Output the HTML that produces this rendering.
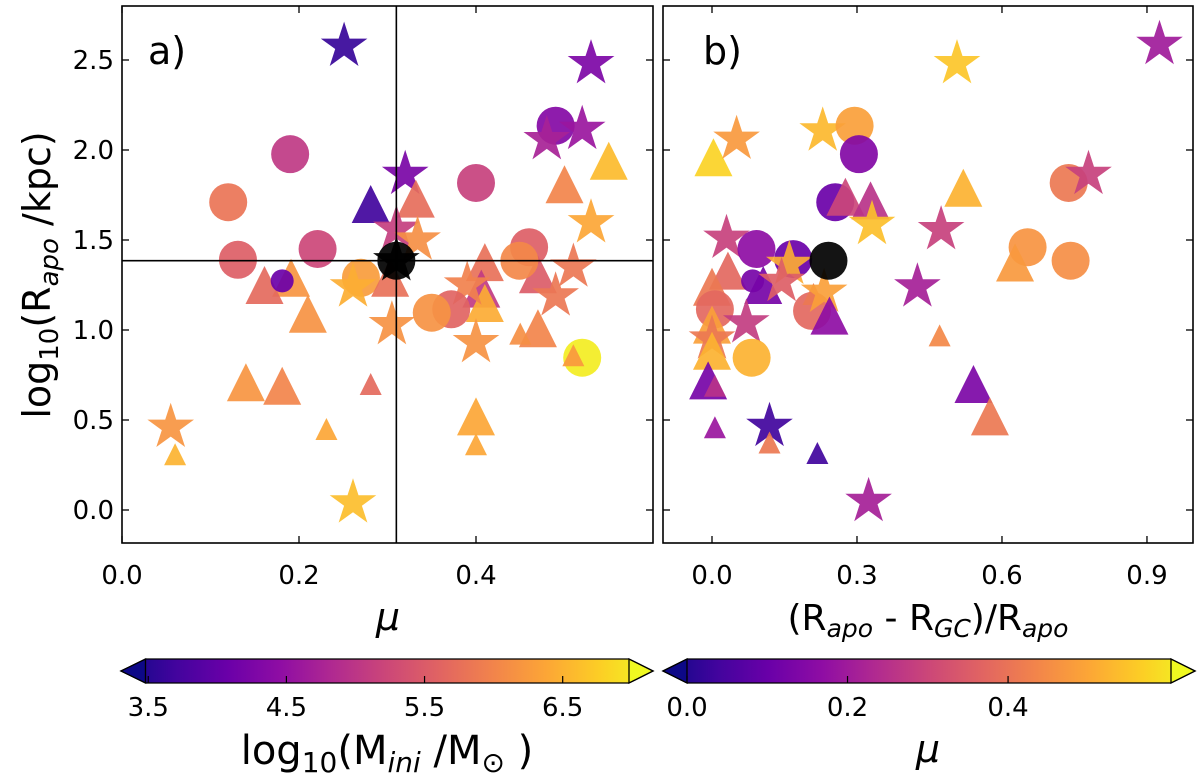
<!DOCTYPE html>
<html><head><meta charset="utf-8"><style>
html,body{margin:0;padding:0;background:#fff;}
svg{display:block;font-family:"DejaVu Sans","Liberation Sans",sans-serif;}
</style></head><body>
<svg id="chart" width="1200" height="776" viewBox="0 0 1200 776" xmlns="http://www.w3.org/2000/svg">
<defs>
<linearGradient id="plasma" x1="0" x2="1" y1="0" y2="0">
<stop offset="0" stop-color="#0d0887"/><stop offset="0.1" stop-color="#41049d"/><stop offset="0.2" stop-color="#6a00a8"/><stop offset="0.3" stop-color="#8f0da4"/><stop offset="0.4" stop-color="#b12a90"/><stop offset="0.5" stop-color="#cc4778"/><stop offset="0.6" stop-color="#e16462"/><stop offset="0.7" stop-color="#f2844b"/><stop offset="0.8" stop-color="#fca636"/><stop offset="0.9" stop-color="#fcce25"/><stop offset="1" stop-color="#f0f921"/>
</linearGradient>
<clipPath id="ca"><rect x="122" y="6" width="531" height="537"/></clipPath>
<clipPath id="cb"><rect x="663" y="6" width="530" height="537"/></clipPath>
</defs>
<g id="layer"></g>
</svg>
<script>
// Panel a data
const aMu   = [0.251,0.19,0.12,0.281,0.131,0.221,0.191,0.161,0.181,0.21,0.27,0.261,0.14,0.181,0.281,0.231,0.055,0.06,0.261,0.32,0.332,0.31,0.334,0.303,0.305,0.53,0.49,0.48,0.52,0.55,0.50,0.40,0.53,0.46,0.47,0.449,0.51,0.41,0.406,0.41,0.39,0.372,0.35,0.49,0.47,0.45,0.40,0.52,0.51,0.40,0.40];
const aLogR = [2.577,1.977,1.71,1.70,1.39,1.45,1.29,1.25,1.273,1.09,1.29,1.24,0.71,0.69,0.70,0.45,0.46,0.31,0.04,1.865,1.73,1.56,1.5,1.29,1.03,2.48,2.135,2.058,2.115,1.94,1.81,1.817,1.596,1.46,1.31,1.385,1.35,1.377,1.23,1.15,1.25,1.115,1.096,1.19,1.01,0.98,0.93,0.846,0.86,0.52,0.365];
const aMass = [3.76,5.06,5.76,3.83,5.51,5.23,6.1,5.65,4.18,6.07,6.18,6.35,6.1,5.93,5.65,6.28,6.1,6.39,6.49,4.32,5.69,5.13,6.04,5.72,6.07,4.36,4.43,4.78,4.64,6.46,5.93,5.16,6.28,5.51,5.48,5.97,5.79,5.72,5.09,6.32,5.9,5.58,6.07,5.79,5.93,6.04,6.07,6.88,6.14,6.28,6.28];
const aShape= ['*','o','o','^','o','o','^','^','o','^','o','*','^','^','^','^','*','^','*','*','^','*','*','^','*','*','o','*','*','^','^','o','*','o','^','o','*','^','^','^','*','o','o','*','^','^','*','o','^','^','^'];
const aSmall= [0,0,0,0,0,0,0,0,1,0,0,0,0,0,1,1,0,1,0,0,0,0,0,0,0,0,0,0,0,0,0,0,0,0,0,0,0,0,0,0,0,0,0,0,0,1,0,0,1,0,1];
// Panel b data
const bFrac = [0.003,0.051,0.229,0.295,0.304,0.255,0.276,0.328,0.331,0.03,0.092,0.168,0.16,0.033,0.106,0.084,0.144,0.0,0.006,0.207,0.21,0.232,0.243,0.071,0.0,0.0,0.0,0.082,-0.008,0.006,0.006,0.119,0.119,0.218,0.324,0.425,0.474,0.471,0.507,0.926,0.52,0.738,0.779,0.653,0.627,0.742,0.541,0.575];
const bLogR = [1.96,2.06,2.106,2.135,1.977,1.71,1.74,1.72,1.587,1.51,1.45,1.394,1.365,1.33,1.25,1.273,1.27,1.24,1.115,1.106,1.2,1.21,1.08,1.04,1.03,0.95,0.885,0.846,0.72,0.69,0.46,0.465,0.375,0.317,0.048,1.24,1.558,0.97,2.48,2.587,1.79,1.817,1.865,1.46,1.375,1.385,0.70,0.52];
const bMuC  = [0.55,0.46,0.51,0.47,0.16,0.12,0.3,0.26,0.52,0.29,0.18,0.12,0.49,0.37,0.14,0.14,0.35,0.4,0.37,0.37,0.4,0.47,0.18,0.28,0.47,0.4,0.5,0.5,0.14,0.26,0.2,0.06,0.4,0.06,0.22,0.22,0.29,0.43,0.53,0.21,0.5,0.4,0.29,0.45,0.46,0.44,0.15,0.4];
const bShape= ['^','*','*','o','o','o','^','^','*','*','o','o','*','^','^','o','*','^','o','o','^','*','^','*','^','*','^','o','^','^','^','*','^','^','*','*','*','^','*','*','^','o','*','o','^','o','^','^'];
const bSmall= [0,0,0,0,0,0,0,0,0,0,0,0,0,0,0,1,0,0,0,0,1,0,0,0,0,0,0,0,0,1,1,0,1,1,0,0,0,1,0,0,0,0,0,0,0,0,0,0];
const aXTicks=['0.0','0.2','0.4'], aXTickV=[0,0.2,0.4];
const bXTicks=['0.0','0.3','0.6','0.9'], bXTickV=[0,0.3,0.6,0.9];
const yTicks=['0.0','0.5','1.0','1.5','2.0','2.5'], yTickV=[0,0.5,1,1.5,2,2.5];
const cbaTicks=['3.5','4.5','5.5','6.5'], cbaTickV=[3.5,4.5,5.5,6.5];
const cbbTicks=['0.0','0.2','0.4'], cbbTickV=[0,0.2,0.4];
const blackPt=[0.31,1.385,0.241];

const NS='http://www.w3.org/2000/svg';
const L=document.getElementById('layer');
function mk(tag,attrs,parent){const e=document.createElementNS(NS,tag);for(const k in attrs)e.setAttribute(k,attrs[k]);(parent||L).appendChild(e);return e;}
const stops=[[13,8,135],[65,4,157],[106,0,168],[143,13,164],[177,42,144],[204,71,120],[225,100,98],[242,132,75],[252,166,54],[252,206,37],[240,249,33]];
function plasma(t){t=Math.max(0,Math.min(1,t));const p=t*10,i=Math.min(9,Math.floor(p)),f=p-i;const a=stops[i],b=stops[i+1];return 'rgb('+a.map((v,k)=>Math.round(v+(b[k]-v)*f)).join(',')+')';}
const yA=v=>510-180*v;
const xA=m=>122+885*m;
const xB=f=>712+483.3*f;
const cA=m=>(m-3.48)/3.5, cB=m=>m/0.603;
function starPts(cx,cy,R){let p=[];for(let i=0;i<10;i++){const r=i%2?R*0.382:R;const a=-Math.PI/2+i*Math.PI/5;p.push((cx+r*Math.cos(a)).toFixed(1)+','+(cy+r*Math.sin(a)).toFixed(1));}return p.join(' ');}
function marker(g,shape,small,cx,cy,fill,name){
  let e;
  if(shape==='o'){e=mk('circle',{cx:cx,cy:cy,r:small?11.5:19,fill:fill},g);}
  else if(shape==='^'){const h=small?11:19;e=mk('polygon',{points:`${cx},${cy-h} ${cx-h},${cy+h} ${cx+h},${cy+h}`,fill:fill},g);}
  else {e=mk('polygon',{points:starPts(cx,cy,small?15:24.5),fill:fill},g);}
  e.setAttribute('opacity','0.92');
  
  
}
function txt(x,y,s,attrs,name){const t=mk('text',Object.assign({x:x,y:y},attrs||{}));t.textContent=s;return t;}

// Panel a
const ga=mk('g',{'clip-path':'url(#ca)'});


for(let i=0;i<aMu.length;i++){marker(ga,aShape[i],aSmall[i],xA(aMu[i]),yA(aLogR[i]),plasma(cA(aMass[i])),'point-a');}
marker(ga,'o',0,xA(blackPt[0]),yA(blackPt[1]),'#000','black-point-a');
marker(ga,'*',0,xA(blackPt[0]),yA(blackPt[1]),'#000','black-star-a');
const la=mk('line',{x1:xA(blackPt[0]),x2:xA(blackPt[0]),y1:6,y2:543,stroke:'#000','stroke-width':1.6});

const lh=mk('line',{x1:122,x2:653,y1:yA(blackPt[1]),y2:yA(blackPt[1]),stroke:'#000','stroke-width':1.6});


// Panel b
const gb=mk('g',{'clip-path':'url(#cb)'});


for(let i=0;i<bFrac.length;i++){marker(gb,bShape[i],bSmall[i],xB(bFrac[i]),yA(bLogR[i]),plasma(cB(bMuC[i])),'point-b');}
marker(gb,'o',0,xB(blackPt[2]),yA(blackPt[1]),'#000','black-point-b');

// Frames and ticks
function frame(x0,x1,name){const r=mk('rect',{x:x0,y:6,width:x1-x0,height:537,fill:'none',stroke:'#000','stroke-width':1.6});}
frame(122,653,'panel-a-frame');frame(663,1193,'panel-b-frame');
function yticks(x0,x1,labels){yTickV.forEach((v,i)=>{const y=yA(v);mk('line',{x1:x0,x2:x0+7,y1:y,y2:y,stroke:'#000','stroke-width':1.3});mk('line',{x1:x1,x2:x1-7,y1:y,y2:y,stroke:'#000','stroke-width':1.3});if(labels)txt(x0-8,y+9,yTicks[i],{'font-size':26,'text-anchor':'end'},'y-tick-label');});}
yticks(122,653,true);yticks(663,1193,false);
aXTickV.forEach((v,i)=>{const x=xA(v);mk('line',{x1:x,x2:x,y1:543,y2:536,stroke:'#000','stroke-width':1.3});mk('line',{x1:x,x2:x,y1:6,y2:13,stroke:'#000','stroke-width':1.3});txt(x,584,aXTicks[i],{'font-size':26,'text-anchor':'middle'},'x-tick-label-a');});
bXTickV.forEach((v,i)=>{const x=xB(v);mk('line',{x1:x,x2:x,y1:543,y2:536,stroke:'#000','stroke-width':1.3});mk('line',{x1:x,x2:x,y1:6,y2:13,stroke:'#000','stroke-width':1.3});txt(x,584,bXTicks[i],{'font-size':26,'text-anchor':'middle'},'x-tick-label-b');});
txt(148,64,'a)',{'font-size':38},'panel-a-label');
txt(703,64,'b)',{'font-size':38},'panel-b-label');

// Axis labels
const yl=txt(0,0,'',{'font-size':38,'text-anchor':'middle',transform:'translate(50,275) rotate(-90)'},'y-axis-title');
yl.innerHTML='log<tspan font-size="26" dy="8">10</tspan><tspan dy="-8">(R</tspan><tspan font-size="26" dy="8" font-style="italic">apo</tspan><tspan dy="-8"> /kpc)</tspan>';
txt(388,630,'μ',{'font-size':38,'text-anchor':'middle','font-style':'italic'},'x-axis-title-a');
const xb=txt(928,630,'',{'font-size':36,'text-anchor':'middle'},'x-axis-title-b');
xb.innerHTML='(R<tspan font-size="25" dy="7" font-style="italic">apo</tspan><tspan dy="-7"> - R</tspan><tspan font-size="25" dy="7" font-style="italic">GC</tspan><tspan dy="-7">)/R</tspan><tspan font-size="25" dy="7" font-style="italic">apo</tspan>';

// Colorbars
function cbar(tl,b0,b1,tr,name){const p=mk('polygon',{points:`${tl},671 ${b0},659 ${b1},659 ${tr},671 ${b1},683 ${b0},683`,fill:'url(#plasma)',stroke:'#000','stroke-width':1.3});}
cbar(121,145.5,629,653,'colorbar-mass');
cbar(663,687,1171,1195,'colorbar-mu');
const ea=mk('polygon',{points:'121,671 145.5,659 145.5,683',fill:'#0d0887',stroke:'#000','stroke-width':1.3});
const eb=mk('polygon',{points:'653,671 629,659 629,683',fill:'#f0f921',stroke:'#000','stroke-width':1.3});
const ec=mk('polygon',{points:'663,671 687,659 687,683',fill:'#0d0887',stroke:'#000','stroke-width':1.3});
const ed=mk('polygon',{points:'1195,671 1171,659 1171,683',fill:'#f0f921',stroke:'#000','stroke-width':1.3});
const cbaX=v=>145.5+(v-3.48)/3.5*483.5, cbbX=v=>687+v/0.603*484;
cbaTickV.forEach((v,i)=>{const x=cbaX(v);mk('line',{x1:x,x2:x,y1:683,y2:676,stroke:'#000','stroke-width':1.2});txt(x,716,cbaTicks[i],{'font-size':26,'text-anchor':'middle'},'colorbar-mass-tick');});
cbbTickV.forEach((v,i)=>{const x=cbbX(v);mk('line',{x1:x,x2:x,y1:683,y2:676,stroke:'#000','stroke-width':1.2});txt(x,716,cbbTicks[i],{'font-size':26,'text-anchor':'middle'},'colorbar-mu-tick');});
const cl=txt(387,764,'',{'font-size':40,'text-anchor':'middle'},'colorbar-mass-title');
cl.innerHTML='log<tspan font-size="28" dy="8">10</tspan><tspan dy="-8">(M</tspan><tspan font-size="28" dy="8" font-style="italic">ini</tspan><tspan dy="-8"> /M</tspan><tspan font-size="28" dy="8">⊙</tspan><tspan dy="-8"> )</tspan>';
txt(928,762,'μ',{'font-size':38,'text-anchor':'middle','font-style':'italic'},'colorbar-mu-title');
</script>
</body></html>
